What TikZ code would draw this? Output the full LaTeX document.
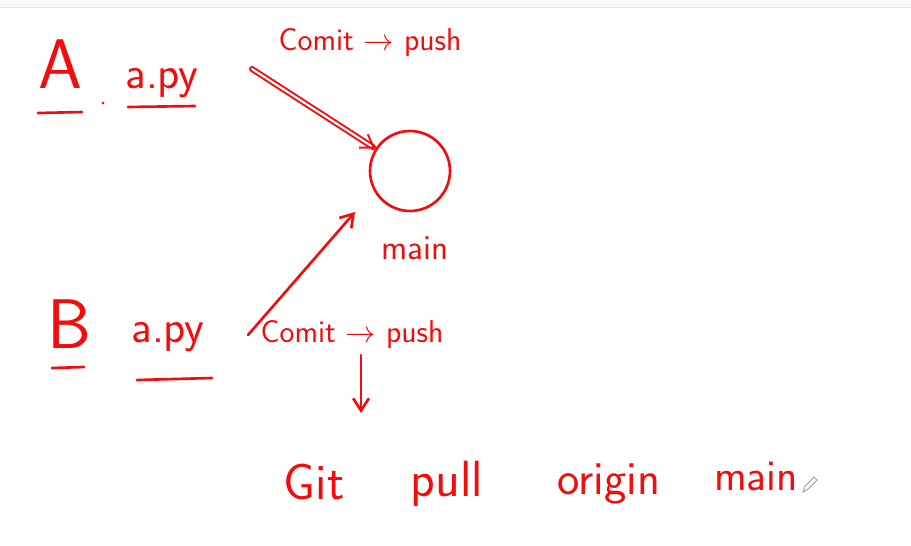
\documentclass[tikz,border=0pt]{standalone}
\usetikzlibrary{arrows.meta}
\definecolor{inkred}{RGB}{242,12,12}
\definecolor{barfill}{RGB}{248,249,251}
\definecolor{barline}{RGB}{230,231,234}

\begin{document}
\begin{tikzpicture}[x=0.02cm,y=-0.02cm,
  ink/.style={text=inkred,inner sep=0pt,anchor=base},
  stroke/.style={draw=inkred,line width=1.5pt,line cap=round},
  pusharrow/.style={stroke,-{Straight Barb[length=7pt,width=9pt]}},
  ]
\useasboundingbox (0,0) rectangle (911,545);
\fill[barfill] (0,0) rectangle (911,7);
\draw[barline,line width=1pt] (0,7.5) -- (911,7.5);

% developer A
\node[ink,font=\sffamily\fontsize{40}{40}\selectfont] (userA) at (60,88) {A};
\node[ink,font=\sffamily\fontsize{26}{26}\selectfont] (fileA) at (162,88) {a.py};
\node[ink,font=\sffamily\fontsize{18}{18}\selectfont] (stepA) at (370,50) {Comit $\to$ push};
\draw[stroke] (38,113) -- (82,112);
\draw[stroke] (128,107) -- (195,106);
\fill[inkred] (103,103) circle (1.5);

% developer B
\node[ink,font=\sffamily\fontsize{40}{40}\selectfont] (userB) at (69,348) {B};
\node[ink,font=\sffamily\fontsize{26}{26}\selectfont] (fileB) at (168,342) {a.py};
\node[ink,font=\sffamily\fontsize{18}{18}\selectfont] (stepB) at (352,342) {Comit $\to$ push};
\draw[stroke] (52,368) -- (84,367);
\draw[stroke] (137,380) -- (212,378);

% remote branch
\node[stroke,circle,minimum size=1.6cm] (hub) at (410,171) {};
\node[ink,font=\sffamily\fontsize{20}{20}\selectfont] (hubname) at (415,259) {main};

\coordinate (tailA) at (252,69);
\coordinate (tailB) at (248,335);
\coordinate (tipB) at (355,212);
\coordinate (downtop) at (361,355);
\coordinate (downtip) at (361,413);

\draw[pusharrow,double=white,double distance=1.2pt,line width=1.1pt] (tailA) -- (hub);
\draw[pusharrow] (tailB) -- (tipB);
\draw[pusharrow] (downtop) -- (downtip);

% command
\node[ink,font=\sffamily\fontsize{29}{29}\selectfont] (cmdA) at (314,499) {Git};
\node[ink,font=\sffamily\fontsize{29}{29}\selectfont] (cmdB) at (447,496) {pull};
\node[ink,font=\sffamily\fontsize{27}{27}\selectfont] (cmdC) at (609,494) {origin};
\node[ink,font=\sffamily\fontsize{25}{25}\selectfont] (cmdD) at (756,490) {main};

% pencil cursor
\draw[gray!70,line width=0.6pt,fill=white] (803,492) -- (805,486) -- (814,477) -- (817,480) -- (808,489) -- cycle;
\end{tikzpicture}
\end{document}
